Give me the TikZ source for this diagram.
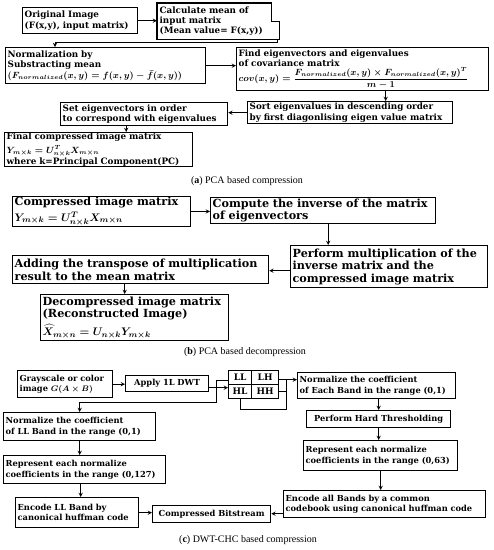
\documentclass[tikz,border=0pt]{standalone}
\usepackage{amsmath}
\usepackage{fontspec}
\setmainfont{DejaVu Serif}
\newfontfamily\capfont{Liberation Serif}
\usetikzlibrary{arrows, positioning, calc}

\begin{document}
\begin{tikzpicture}[
    x=1pt, y=-1pt,
    box/.style = {rectangle, draw, line width=1.3pt, anchor=north west, align=left, inner xsep=2pt, inner ysep=0.5pt},
    pcabox/.style = {box, font=\bfseries\fontsize{8.8}{10.3}\selectfont\boldmath},
    decbox/.style = {box, font=\bfseries\fontsize{11.2}{12.5}\selectfont\boldmath},
    dwtbox/.style = {box, font=\bfseries\fontsize{8.3}{10.3}\selectfont\boldmath},
    cell/.style = {rectangle, draw, line width=1.3pt, anchor=north west, minimum height=14pt, inner sep=0pt, font=\bfseries\fontsize{9}{10}\selectfont},
    caption/.style = {font=\capfont\fontsize{10}{12}\selectfont},
    link/.style = {line width=0.9pt},
    arrow/.style = {line width=0.9pt, ->, >=stealth}
]
\fill[white] (0,0) rectangle (494,550);
\useasboundingbox (0,0) rectangle (494,550);

% (a) PCA based compression
\node[pcabox, text width=111pt, minimum height=26pt] (orig) at (22,7) {Original Image\\(F(x,y), input matrix)};
\node[pcabox, draw=none, text width=117pt, minimum height=35pt] (mean) at (157,3) {Calculate mean of\\input matrix\\(Mean value= F(x,y))};
\draw[line width=1.3pt] (mean.north west) -| ([xshift=-8pt]mean.east) -- (mean.east) |- (mean.south west) -- cycle;
\node[pcabox, text width=196pt, minimum height=36pt] (norm) at (5,47) {Normalization by\\Substracting mean\\[1pt]$(F_{normalized}(x,y)=f(x,y)-\bar{f}(x,y))$};
\node[pcabox, text width=248pt, minimum height=43pt] (eigen) at (236,47) {Find eigenvectors and eigenvalues\\of covariance matrix\\$cov(x,y)=\dfrac{F_{normalized}(x,y)\times F_{normalized}(x,y)^T}{m-1}$};
\node[pcabox, text width=201pt, minimum height=22pt] (sortev) at (247,101) {Sort eigenvalues in descending order\\by first diagonlising eigen value matrix};
\node[pcabox, text width=163pt, minimum height=23pt] (setev) at (60,102) {Set eigenvectors in order\\to correspond with eigenvalues};
\node[pcabox, text width=184pt, minimum height=34pt] (final) at (4,132) {Final compressed image matrix\\[3pt]$Y_{m\times k}=U^T_{n\times k}X_{m\times n}$\\[1pt]where k=Principal Component(PC)};
\node[caption] (capa) at (247,181) {(\textbf{a}) PCA based compression};

% (b) PCA based decompression
\node[decbox, text width=174pt, minimum height=27pt] (comp) at (12,196) {Compressed image matrix\\[3pt]$Y_{m\times k}=U^T_{n\times k}X_{m\times n}$};
\node[decbox, text width=221pt, minimum height=26pt] (inv) at (210,197) {Compute the inverse of the matrix\\of eigenvectors};
\node[decbox, text width=193pt, minimum height=42pt] (mult) at (290,245) {Perform multiplication of the\\inverse matrix and the\\compressed image matrix};
\node[decbox, text width=252pt, minimum height=28pt] (addt) at (12,255) {Adding the transpose of multiplication\\result to the mean matrix};
\node[decbox, text width=184pt, minimum height=46pt] (decomp) at (40,294) {Decompressed image matrix\\(Reconstructed Image)\\[3.5pt]$\widehat{X}_{m\times n}=U_{n\times k}Y_{m\times k}$};
\node[caption] (capb) at (245,352) {(\textbf{b}) PCA based decompression};

% (c) DWT-CHC based compression
\node[dwtbox, text width=91pt, minimum height=27pt] (gray) at (17,370) {Grayscale or color\\image $G(A\times B)$};
\node[dwtbox, text width=79pt, minimum height=16pt, align=center] (dwt) at (125,375) {Apply 1L DWT};
\node[cell, minimum width=23pt] (ll) at (228,370) {LL};
\node[cell, minimum width=27pt] (lh) at (251,370) {LH};
\node[cell, minimum width=23pt] (hl) at (228,384) {HL};
\node[cell, minimum width=27pt] (hh) at (251,384) {HH};
\node[dwtbox, text width=154pt, minimum height=26pt] (normband) at (297,372) {Normalize the coefficient\\of Each Band in the range (0,1)};
\node[dwtbox, text width=140pt, minimum height=17pt, align=center] (thresh) at (306,410) {Perform Hard Thresholding};
\node[dwtbox, text width=150pt, minimum height=30pt] (rep63) at (303,440) {Represent each normalize\\coefficients in the range (0,63)};
\node[dwtbox, text width=198pt, minimum height=27pt] (encall) at (283,490) {Encode all Bands by a common\\codebook using canonical huffman code};
\node[dwtbox, text width=114pt, minimum height=17pt, align=center] (bits) at (152,505) {Compressed Bitstream};
\node[dwtbox, text width=148pt, minimum height=28pt] (normll) at (3,412) {Normalize the coefficient\\of LL Band in the range (0,1)};
\node[dwtbox, text width=158pt, minimum height=28pt] (rep127) at (3,455) {Represent each normalize\\coefficients in the range (0,127)};
\node[dwtbox, text width=119pt, minimum height=30pt] (encll) at (15,497) {Encode LL Band by\\canonical huffman code};
\node[caption] (capc) at (248,540) {(\textbf{c}) DWT-CHC based compression};
\coordinate (join) at (286,379);

% Arrows (a)
\draw[arrow] (orig.east) -- (orig.east -| mean.west);
\draw[arrow] ([xshift=-2pt]mean.south east) -- ++(0,3) -| ([xshift=50pt]norm.north west);
\draw[arrow] (norm.east) -- (norm.east -| eigen.west);
\draw[arrow] ([xshift=23pt]eigen.south) -- ([xshift=23pt]eigen.south |- sortev.north);
\draw[arrow] (sortev.west) -- (sortev.west -| setev.east);
\draw[arrow] ([xshift=-18pt]setev.south) -- ([xshift=-18pt]setev.south |- final.north);

% Arrows (b)
\draw[arrow] (comp.east) -- (comp.east -| inv.west);
\draw[arrow] ([xshift=5pt]inv.south) -- ([xshift=5pt]inv.south |- mult.north);
\draw[arrow] ([yshift=-4pt]mult.west) -- ([yshift=-4pt]mult.west -| addt.east);
\draw[arrow] ([xshift=-16pt]addt.south) -- ([xshift=-16pt]addt.south |- decomp.north);

% Arrows (c)
\draw[arrow] (gray.east) -- (gray.east -| dwt.west);
\draw[arrow] ([yshift=-4pt]dwt.east) -- ([yshift=-4pt]dwt.east -| hl.west);
\draw[arrow] ([yshift=-3pt]ll.west) -- ++(-12,0) -- ++(0,22) -| (normll.north);
\draw[arrow] ([yshift=-2pt]lh.east) -- ([yshift=-2pt]lh.east -| normband.west);
\draw[link] (hh.east) -| (join);
\draw[link] (hl.south) -- ++(0,10) -| (join);
\draw[arrow] ([xshift=2pt]normband.south) -- ([xshift=2pt]normband.south |- thresh.north);
\draw[arrow] (thresh.south) -- (thresh.south |- rep63.north);
\draw[arrow] (rep63.south) -- (rep63.south |- encall.north);
\draw[arrow] ([yshift=-9.5pt]encall.west) -- ([yshift=-9.5pt]encall.west -| bits.east);
\draw[arrow] (normll.south) -- (normll.south |- rep127.north);
\draw[arrow] ([xshift=-4pt]rep127.south) -- ([xshift=-4pt]rep127.south |- encll.north);
\draw[arrow] (encll.east) -- (encll.east -| bits.west);

\end{tikzpicture}
\end{document}
